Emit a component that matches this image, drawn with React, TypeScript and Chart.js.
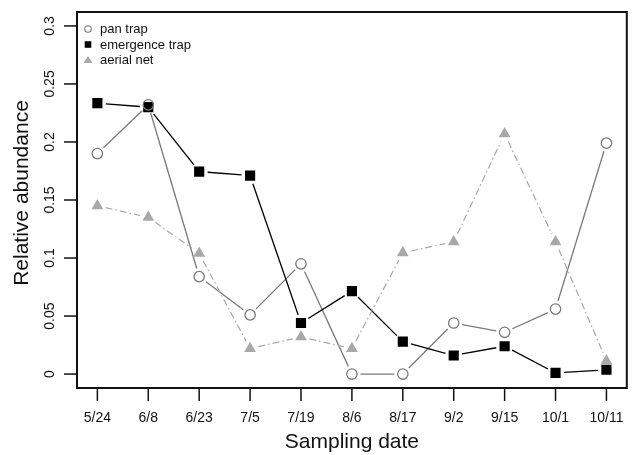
import React, { useEffect, useRef } from "react";
import { Chart, registerables } from "chart.js";

Chart.register(...registerables);

const dates = ["5/24", "6/8", "6/23", "7/5", "7/19", "8/6", "8/17", "9/2", "9/15", "10/1", "10/11"];
const panTrap = [0.19, 0.232, 0.084, 0.051, 0.095, 0.0, 0.0, 0.044, 0.036, 0.056, 0.199];
const emergenceTrap = [0.2335, 0.23, 0.1745, 0.171, 0.044, 0.0715, 0.028, 0.016, 0.024, 0.001, 0.0037];
const aerialNet = [0.145, 0.135, 0.104, 0.022, 0.032, 0.022, 0.1045, 0.114, 0.207, 0.114, 0.0115];
const yTicks = [0, 0.05, 0.1, 0.15, 0.2, 0.25, 0.3];
const yTickLabels = ["0", "0.05", "0.1", "0.15", "0.2", "0.25", "0.3"];

const FONT = "'Liberation Sans', Arial, Helvetica, sans-serif";

const seriesStyles = [
  { label: "pan trap", data: panTrap, color: "#7a7a7a", style: "circle", dash: [] as number[], lw: 1.3 },
  { label: "emergence trap", data: emergenceTrap, color: "#000000", style: "rect", dash: [] as number[], lw: 1.3 },
  { label: "aerial net", data: aerialNet, color: "#a8a8a8", style: "triangle", dash: [7, 3, 1.5, 3], lw: 1.2 },
];

const gapLinesPlugin = {
  id: "gapLines",
  beforeDatasetsDraw(chart: any) {
    const ctx = chart.ctx;
    const gap = 8.5;
    chart.data.datasets.forEach((ds: any, i: number) => {
      const meta = chart.getDatasetMeta(i);
      const pts = meta.data;
      ctx.save();
      ctx.strokeStyle = ds._lineColor;
      ctx.lineWidth = ds._lineWidth;
      ctx.setLineDash(ds._dash);
      for (let k = 0; k < pts.length - 1; k++) {
        const a = pts[k], b = pts[k + 1];
        const dx = b.x - a.x, dy = b.y - a.y;
        const len = Math.sqrt(dx * dx + dy * dy);
        if (len <= 2 * gap) continue;
        const ux = dx / len, uy = dy / len;
        ctx.beginPath();
        ctx.moveTo(a.x + ux * gap, a.y + uy * gap);
        ctx.lineTo(b.x - ux * gap, b.y - uy * gap);
        ctx.stroke();
      }
      ctx.restore();
    });
  },
};

const axesPlugin = {
  id: "rAxes",
  afterDraw(chart: any) {
    const ctx = chart.ctx;
    const ca = chart.chartArea;
    const xs = chart.scales.x;
    const ys = chart.scales.y;
    ctx.save();
    // box
    ctx.strokeStyle = "#111";
    ctx.lineWidth = 2;
    ctx.strokeRect(ca.left, ca.top, ca.right - ca.left, ca.bottom - ca.top);
    // y ticks
    ctx.lineWidth = 1.5;
    ctx.fillStyle = "#111";
    ctx.font = `14px ${FONT}`;
    yTicks.forEach((v, i) => {
      const y = ys.getPixelForValue(v);
      ctx.beginPath();
      ctx.moveTo(ca.left - 13, y);
      ctx.lineTo(ca.left, y);
      ctx.stroke();
      ctx.save();
      ctx.translate(50, y);
      ctx.rotate(-Math.PI / 2);
      ctx.textAlign = "center";
      ctx.textBaseline = "middle";
      ctx.fillText(yTickLabels[i], 0, 0);
      ctx.restore();
    });
    // x ticks
    dates.forEach((d, i) => {
      const x = xs.getPixelForValue(i + 1);
      ctx.beginPath();
      ctx.moveTo(x, ca.bottom);
      ctx.lineTo(x, ca.bottom + 13);
      ctx.stroke();
      ctx.textAlign = "center";
      ctx.textBaseline = "middle";
      ctx.fillText(d, x, 418);
    });
    // titles
    ctx.font = `21px ${FONT}`;
    ctx.textAlign = "center";
    ctx.textBaseline = "alphabetic";
    ctx.fillText("Sampling date", (ca.left + ca.right) / 2, 448);
    ctx.save();
    ctx.translate(28, 193);
    ctx.rotate(-Math.PI / 2);
    ctx.fillText("Relative abundance", 0, 0);
    ctx.restore();
    // legend
    ctx.font = `13px ${FONT}`;
    ctx.textAlign = "left";
    ctx.textBaseline = "middle";
    const rows = [29, 44.5, 60];
    seriesStyles.forEach((s, i) => {
      const y = rows[i];
      const x = 88;
      ctx.fillStyle = s.color;
      ctx.strokeStyle = s.color;
      ctx.lineWidth = 1.1;
      ctx.beginPath();
      if (s.style === "circle") {
        ctx.arc(x, y, 3.3, 0, Math.PI * 2);
        ctx.stroke();
      } else if (s.style === "rect") {
        ctx.fillRect(x - 3.3, y - 3.3, 6.6, 6.6);
      } else {
        ctx.moveTo(x, y - 4);
        ctx.lineTo(x + 4.3, y + 3);
        ctx.lineTo(x - 4.3, y + 3);
        ctx.closePath();
        ctx.fill();
      }
      ctx.fillStyle = "#111";
      ctx.fillText(s.label, 100, y + 0.5);
    });
    ctx.restore();
  },
};

export default function App() {
  const ref = useRef<HTMLCanvasElement | null>(null);
  useEffect(() => {
    document.body.style.margin = "0";
    if (!ref.current) return;
    const chart = new Chart(ref.current, {
      type: "scatter",
      data: {
        datasets: seriesStyles.map((s) => ({
          label: s.label,
          data: s.data.map((v, i) => ({ x: i + 1, y: v })),
          showLine: false,
          pointStyle: s.style,
          pointRadius: s.style === "circle" ? 5.2 : s.style === "rect" ? 7.2 : 6.8,
          pointBorderWidth: s.style === "circle" ? 1.3 : 0,
          pointBorderColor: s.color,
          pointBackgroundColor: s.style === "circle" ? "rgba(255,255,255,0)" : s.color,
          _lineColor: s.color,
          _lineWidth: s.lw,
          _dash: s.dash,
        })) as any,
      },
      options: {
        responsive: false,
        animation: false,
        layout: { padding: { left: 77, right: 1, top: 12, bottom: 67 } },
        plugins: { legend: { display: false }, tooltip: { enabled: false } },
        scales: {
          x: { type: "linear", min: 0.6, max: 11.4, display: false },
          y: { type: "linear", min: -0.012, max: 0.312, display: false },
        },
      },
      plugins: [gapLinesPlugin, axesPlugin],
    });
    return () => chart.destroy();
  }, []);
  return (
    <div style={{ width: 634, height: 455, background: "#fff" }}>
      <canvas ref={ref} width={634} height={455} style={{ display: "block" }} />
    </div>
  );
}
